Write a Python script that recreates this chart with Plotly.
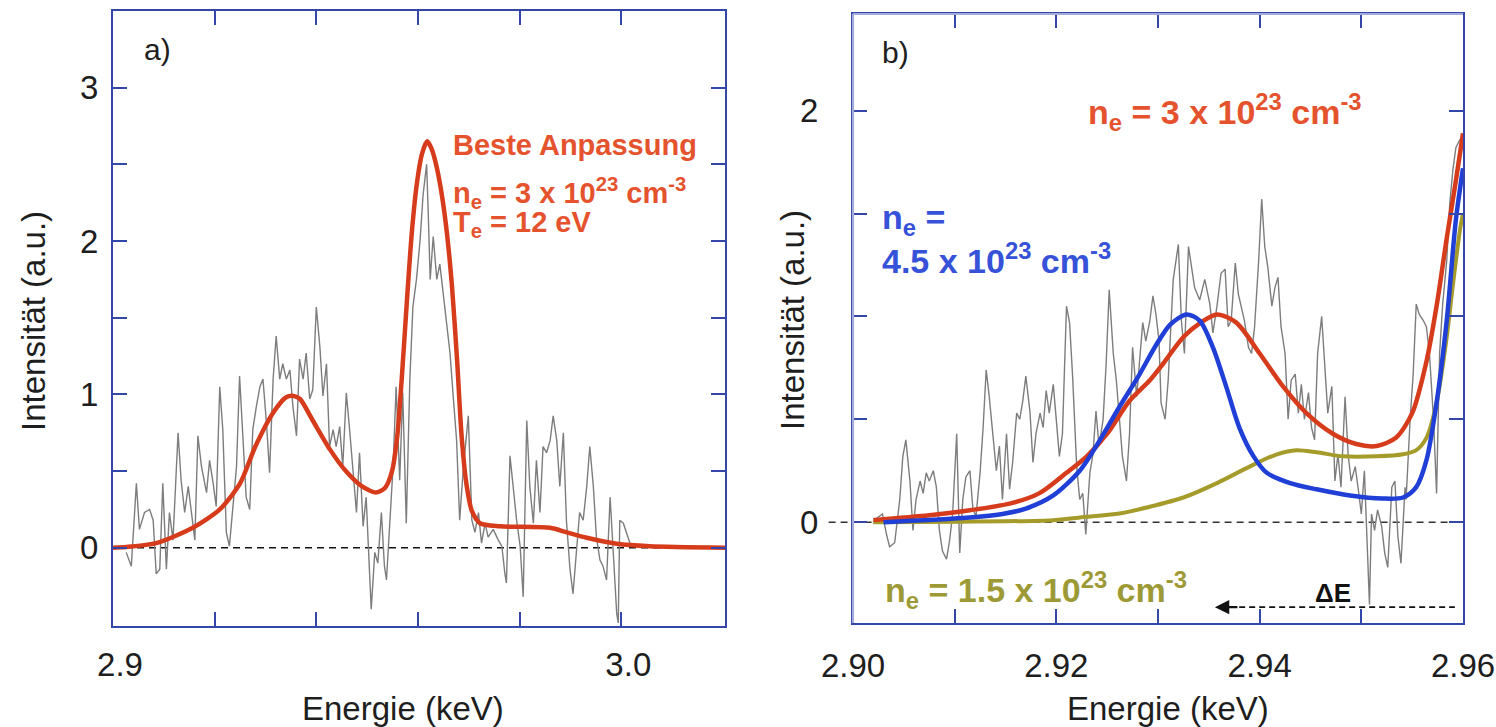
import plotly.graph_objects as go

# ---------------- panel a) : measured spectrum and best fit ----------------
E_a = [2.9026, 2.9036, 2.9046, 2.9052, 2.9062, 2.9072, 2.9079, 2.9085, 2.9092, 2.9098,
       2.9105, 2.9111, 2.9118, 2.9128, 2.9134, 2.9141, 2.9148, 2.9154, 2.9161, 2.9167,
       2.9174, 2.9184, 2.9190, 2.9197, 2.9203, 2.9210, 2.9216, 2.9223, 2.9229, 2.9236,
       2.9243, 2.9249, 2.9256, 2.9262, 2.9269, 2.9275, 2.9282, 2.9289, 2.9295, 2.9302,
       2.9308, 2.9315, 2.9321, 2.9328, 2.9334, 2.9341, 2.9348, 2.9354, 2.9361, 2.9367,
       2.9374, 2.9380, 2.9387, 2.9393, 2.9400, 2.9407, 2.9413, 2.9420, 2.9426, 2.9433,
       2.9439, 2.9446, 2.9452, 2.9459, 2.9466, 2.9472, 2.9479, 2.9485, 2.9492, 2.9498,
       2.9505, 2.9508, 2.9515, 2.9521, 2.9528, 2.9534, 2.9538, 2.9544, 2.9551, 2.9557,
       2.9564, 2.9570, 2.9577, 2.9584, 2.9590, 2.9597, 2.9604, 2.9610, 2.9617, 2.9620,
       2.9624, 2.9630, 2.9637, 2.9643, 2.9650, 2.9656, 2.9663, 2.9669, 2.9676, 2.9682,
       2.9689, 2.9699, 2.9706, 2.9712, 2.9719, 2.9725, 2.9732, 2.9738, 2.9748, 2.9758,
       2.9765, 2.9771, 2.9774, 2.9781, 2.9787, 2.9794, 2.9801, 2.9807, 2.9814, 2.9820,
       2.9827, 2.9833, 2.9840, 2.9846, 2.9853, 2.9860, 2.9866, 2.9873, 2.9879, 2.9886,
       2.9892, 2.9899, 2.9905, 2.9912, 2.9918, 2.9925, 2.9932, 2.9938, 2.9945, 2.9951,
       2.9958, 2.9964, 2.9971, 2.9978, 2.9984, 2.9991, 2.9994, 2.9997, 3.0004, 3.0010,
       3.0017]
I_a = [-0.03, -0.12, 0.42, 0.12, 0.23, 0.25, 0.18, -0.17, -0.14, 0.42,
       -0.14, 0.23, 0.05, 0.75, 0.44, 0.23, 0.40, 0.23, 0.05, 0.73,
       0.53, 0.36, 0.57, 0.42, 0.27, 1.05, 0.77, 0.10, 0.01, 0.27,
       0.53, 1.12, 0.66, 0.33, 0.25, 0.77, 0.92, 1.05, 1.10, 0.81,
       0.49, 1.10, 1.38, 1.10, 1.20, 1.10, 1.16, 0.92, 0.73, 1.23,
       1.10, 1.27, 0.97, 1.03, 1.57, 1.31, 0.99, 1.20, 0.66, 0.77,
       0.66, 0.79, 0.53, 1.01, 0.75, 0.49, 0.23, 0.62, 0.14, 0.33,
       -0.21, -0.40, -0.03, -0.10, 0.23, -0.12, -0.21, 0.10, 0.53, 1.05,
       0.44, 1.01, 0.16, 1.10, 1.57, 1.75, 2.00, 2.30, 2.50, 2.20,
       1.75, 2.03, 1.75, 1.85, 1.64, 1.50, 1.27, 1.00, 0.70, 0.18,
       0.51, 0.86, 0.18, 0.10, 0.23, 0.03, 0.16, 0.07, 0.12, 0.05,
       0.01, -0.17, -0.23, 0.60, 0.40, 0.18, 0.01, -0.32, 0.83, 0.40,
       0.16, 0.57, 0.23, 0.66, 0.62, 0.70, 0.86, 0.70, 0.40, 0.75,
       0.18, -0.14, -0.30, -0.03, 0.23, 0.18, 0.40, 0.66, 0.40, 0.07,
       -0.08, -0.12, -0.21, 0.33, 0.01, -0.43, -0.49, 0.18, 0.16, 0.10,
       0.03]

fit_E_a = [2.9000, 2.9026, 2.9085, 2.9157, 2.9210, 2.9250, 2.9280, 2.9315, 2.9340, 2.9355,
           2.9368, 2.9393, 2.9427, 2.9458, 2.9490, 2.9517, 2.9535, 2.9549, 2.9559, 2.9568,
           2.9578, 2.9588, 2.9598, 2.9608, 2.9618, 2.9627, 2.9637, 2.9647, 2.9657, 2.9667,
           2.9677, 2.9686, 2.9696, 2.9706, 2.9722, 2.9761, 2.9860, 2.9893, 2.9932, 2.9991,
           3.0056, 3.0204]
fit_I_a = [0.0, 0.005, 0.03, 0.13, 0.25, 0.42, 0.66, 0.88, 0.98, 0.99,
           0.97, 0.83, 0.64, 0.50, 0.40, 0.36, 0.39, 0.50, 0.72, 1.10,
           1.60, 2.06, 2.38, 2.57, 2.65, 2.60, 2.48, 2.30, 2.05, 1.70,
           1.22, 0.72, 0.40, 0.24, 0.16, 0.14, 0.13, 0.10, 0.065, 0.026,
           0.01, 0.0]

# ---------------- panel b) : spectrum and three density models ----------------
E_b = [2.9021, 2.9029, 2.9033, 2.9036, 2.9041,
       2.9046, 2.9049, 2.9052, 2.9056, 2.9059, 2.9062, 2.9066, 2.9069, 2.9072, 2.9075,
       2.9079, 2.9082, 2.9085, 2.9088, 2.9092, 2.9095, 2.9098, 2.9102, 2.9105, 2.9108,
       2.9111, 2.9115, 2.9118, 2.9121, 2.9125, 2.9128, 2.9131, 2.9134, 2.9138, 2.9141,
       2.9144, 2.9147, 2.9151, 2.9154, 2.9157, 2.9161, 2.9164, 2.9167, 2.9170, 2.9174,
       2.9177, 2.9180, 2.9184, 2.9187, 2.9190, 2.9193, 2.9197, 2.9200, 2.9203, 2.9206,
       2.9210, 2.9213, 2.9216, 2.9220, 2.9223, 2.9226, 2.9229, 2.9233, 2.9236, 2.9239,
       2.9242, 2.9246, 2.9249, 2.9252, 2.9256, 2.9259, 2.9262, 2.9265, 2.9269, 2.9272,
       2.9275, 2.9279, 2.9282, 2.9285, 2.9288, 2.9292, 2.9295, 2.9298, 2.9301,
       2.9303, 2.9307, 2.9310, 2.9315, 2.9320, 2.9323, 2.9326, 2.9330, 2.9333, 2.9336,
       2.9341, 2.9346, 2.9351, 2.9354, 2.9358, 2.9362, 2.9366, 2.9369, 2.9372, 2.9376,
       2.9379, 2.9382, 2.9385, 2.9389, 2.9392, 2.9395, 2.9399, 2.9402, 2.9405, 2.9408,
       2.9412, 2.9415, 2.9418, 2.9421, 2.9425, 2.9428, 2.9431, 2.9435, 2.9438, 2.9441,
       2.9444, 2.9448, 2.9451, 2.9454, 2.9457, 2.9461, 2.9464, 2.9467, 2.9471, 2.9474,
       2.9477, 2.9480, 2.9484, 2.9487, 2.9490, 2.9494, 2.9497, 2.9500, 2.9503, 2.9507,
       2.9508, 2.9510, 2.9513, 2.9516, 2.9520, 2.9523, 2.9526, 2.9530, 2.9533, 2.9536,
       2.9539, 2.9543, 2.9544, 2.9548, 2.9551, 2.9554, 2.9557, 2.9561, 2.9564, 2.9567,
       2.9571, 2.9574, 2.9577, 2.9580, 2.9584, 2.9587, 2.9590, 2.9593, 2.9597]
I_b = [0.01, 0.04, -0.06, -0.12, -0.10,
       0.11, 0.32, 0.40, 0.20, -0.04, 0.11, 0.20, 0.14, 0.24, 0.20,
       0.25, 0.17, -0.04, -0.14, -0.18, -0.09, 0.04, 0.43, -0.15, 0.11,
       0.22, 0.25, 0.06, 0.03, 0.24, 0.46, 0.74, 0.61, 0.40, 0.25,
       0.37, 0.11, 0.43, 0.16, 0.29, 0.53, 0.50, 0.59, 0.71, 0.54,
       0.29, 0.43, 0.53, 0.46, 0.64, 0.53, 0.67, 0.50, 0.32, 0.43,
       1.05, 0.97, 0.71, 0.27, 0.11, 0.14, -0.06, 0.24, 0.33, 0.54,
       0.37, 0.50, 0.77, 1.13, 0.82, 0.69, 0.50, 0.32, 0.20, 0.43,
       0.85, 0.61, 0.79, 0.97, 0.88, 0.98, 1.10, 1.01, 0.88,
       0.58, 0.50, 0.69, 1.18, 1.35, 0.98, 0.82, 1.34, 1.24, 1.14,
       1.08, 1.18, 1.06, 0.92, 1.05, 1.21, 1.23, 0.95, 0.98, 1.26,
       1.11, 1.05, 0.98, 0.85, 0.82, 0.95, 1.27, 1.57, 1.34, 1.24,
       1.05, 1.14, 1.19, 0.95, 0.82, 0.50, 0.69, 0.72, 0.53, 0.67,
       0.50, 0.63, 0.46, 0.40, 0.82, 1.00, 0.77, 0.53, 0.66, 0.20,
       0.33, 0.17, 0.61, 0.33, 0.20, 0.27, 0.16, 0.04, 0.25, -0.31,
       -0.40, 0.04, -0.04, 0.06, -0.02, -0.15, -0.22, 0.17, 0.20, -0.07,
       -0.20, 0.17, 0.11, 0.50, 0.72, 1.06, 1.01, 0.98, 0.95, 0.82,
       0.50, 0.14, 0.82, 1.06, 1.27, 1.55, 1.71, 1.82, 1.86]

red_E_b = [2.9020, 2.9075, 2.9115, 2.9154, 2.9183, 2.9210, 2.9230, 2.9250, 2.9272, 2.9292,
           2.9305, 2.9325, 2.9342, 2.9358, 2.9377, 2.9400, 2.9423, 2.9446, 2.9472, 2.9495,
           2.9515, 2.9534, 2.9550, 2.9564, 2.9574, 2.9584, 2.9593, 2.9600]
red_I_b = [0.01, 0.034, 0.058, 0.09, 0.14, 0.24, 0.32, 0.43, 0.59, 0.69,
           0.77, 0.90, 0.97, 1.01, 0.97, 0.82, 0.66, 0.53, 0.43, 0.38,
           0.37, 0.41, 0.53, 0.78, 1.05, 1.38, 1.66, 1.89]

blue_E_b = [2.9030, 2.9108, 2.9147, 2.9170, 2.9197, 2.9223, 2.9243, 2.9262, 2.9282, 2.9298,
            2.9312, 2.9328, 2.9341, 2.9354, 2.9367, 2.9380, 2.9394, 2.9407, 2.9430, 2.9456,
            2.9489, 2.9521, 2.9541, 2.9554, 2.9564, 2.9574, 2.9584, 2.9593, 2.9600]
blue_I_b = [0.0, 0.02, 0.04, 0.066, 0.13, 0.25, 0.40, 0.56, 0.72, 0.86,
            0.96, 1.01, 0.98, 0.85, 0.66, 0.46, 0.32, 0.24, 0.19, 0.16,
            0.13, 0.115, 0.12, 0.17, 0.30, 0.58, 0.98, 1.47, 1.72]

olive_E_b = [2.9020, 2.9197, 2.9230, 2.9262, 2.9292, 2.9325, 2.9358, 2.9390, 2.9417, 2.9436,
             2.9456, 2.9482, 2.9515, 2.9541, 2.9554, 2.9564, 2.9574, 2.9584, 2.9590, 2.9597,
             2.9600]
olive_I_b = [0.0, 0.01, 0.026, 0.042, 0.075, 0.12, 0.19, 0.27, 0.33, 0.35,
             0.34, 0.32, 0.32, 0.33, 0.35, 0.41, 0.58, 0.90, 1.15, 1.42,
             1.50]

# ---------------- styling ----------------
W, H = 1496, 727
FONT = "Liberation Sans, Arial, sans-serif"
FRAME = "#3447a8"
FRAME_LIGHT = "#a3acdc"
GRAY = "#7d7d7d"
RED = "#d63c1c"
BLUE = "#1f3fd6"
OLIVE = "#a59b2b"
RED_TXT = "#e5532e"
BLUE_TXT = "#3552d8"
OLIVE_TXT = "#9d9a36"
TXT = "#1e1e1e"


def px(x):
    return x / W


def py(y):
    return 1 - y / H


fig = go.Figure()

fig.add_trace(go.Scatter(x=E_a, y=I_a, mode="lines", line=dict(color=GRAY, width=1.4),
                         xaxis="x", yaxis="y", showlegend=False))
fig.add_trace(go.Scatter(x=fit_E_a, y=fit_I_a, mode="lines",
                         line=dict(color=RED, width=4.5, shape="spline", smoothing=0.7),
                         xaxis="x", yaxis="y", showlegend=False))

fig.add_trace(go.Scatter(x=E_b, y=I_b, mode="lines", line=dict(color=GRAY, width=1.4),
                         xaxis="x2", yaxis="y2", showlegend=False))
fig.add_trace(go.Scatter(x=olive_E_b, y=olive_I_b, mode="lines",
                         line=dict(color=OLIVE, width=4, shape="spline", smoothing=0.8),
                         xaxis="x2", yaxis="y2", showlegend=False))
fig.add_trace(go.Scatter(x=red_E_b, y=red_I_b, mode="lines",
                         line=dict(color=RED, width=4.5, shape="spline", smoothing=0.8),
                         xaxis="x2", yaxis="y2", showlegend=False))
fig.add_trace(go.Scatter(x=blue_E_b, y=blue_I_b, mode="lines",
                         line=dict(color=BLUE, width=4.5, shape="spline", smoothing=0.8),
                         xaxis="x2", yaxis="y2", showlegend=False))

axis_common = dict(showgrid=False, zeroline=False, showline=True, linecolor=FRAME, linewidth=2,
                   mirror="ticks", ticks="inside", ticklen=14, tickwidth=1.6, tickcolor=FRAME,
                   automargin=False,
                   tickfont=dict(family=FONT, size=33, color=TXT))

fig.update_layout(
    width=W, height=H,
    margin=dict(l=0, r=0, t=0, b=0, autoexpand=False),
    paper_bgcolor="white", plot_bgcolor="white",
    xaxis=dict(domain=[px(113), px(725)], range=[2.9, 3.0204], anchor="y",
               tickvals=[2.90, 2.92, 2.94, 2.96, 2.98, 3.00],
               ticktext=["2.9", "", "", "", "", "3.0"],
               ticklabelshift=7, ticklabelstandoff=8, **axis_common),
    yaxis=dict(domain=[py(626), py(11)], range=[-0.51, 3.5], anchor="x",
               tickvals=[0, 0.5, 1, 1.5, 2, 2.5, 3],
               ticktext=["0", "", "1", "", "2", "", "3"],
               ticklabelstandoff=6, **axis_common),
    xaxis2=dict(domain=[px(853), px(1463)], range=[2.90, 2.96], anchor="y2",
                tickvals=[2.90, 2.91, 2.92, 2.93, 2.94, 2.95, 2.96],
                ticktext=["2.90", "", "2.92", "", "2.94", "", "2.96"],
                ticklabelstandoff=12, **axis_common),
    yaxis2=dict(domain=[py(623), py(14)], range=[-0.49, 2.47], anchor="x2",
                tickvals=[0, 0.5, 1, 1.5, 2],
                ticktext=["0", "", "", "", "2"],
                ticklabelstandoff=26, **axis_common),
)

# zero lines
fig.add_shape(type="line", xref="x", yref="y", x0=2.9, x1=3.0204, y0=0, y1=0,
              line=dict(color="#111111", width=1.4, dash="7px,5px"), layer="below")
fig.add_shape(type="line", xref="x2 domain", yref="y2", x0=-0.04, x1=1, y0=0, y1=0,
              line=dict(color="#333333", width=1.4, dash="7px,5px"), layer="below")

# lighter top/left frame edges of panel b)
fig.add_shape(type="line", xref="paper", yref="paper", x0=px(853), x1=px(1463), y0=py(14), y1=py(14),
              line=dict(color=FRAME_LIGHT, width=2.2))
fig.add_shape(type="line", xref="paper", yref="paper", x0=px(853), x1=px(853), y0=py(14), y1=py(623),
              line=dict(color=FRAME_LIGHT, width=2.2))

# Delta E marker: dashed shaft with arrow head pointing to lower energy
fig.add_shape(type="line", xref="x2", yref="y2", x0=2.9370, x1=2.9592, y0=-0.413, y1=-0.413,
              line=dict(color="#111111", width=1.6, dash="6px,4px"))
fig.add_annotation(x=2.9356, y=-0.413, xref="x2", yref="y2", ax=24, ay=0, text="",
                   showarrow=True, arrowhead=2, arrowsize=1.3, arrowwidth=2.2, arrowcolor="#111111")
fig.add_annotation(x=2.9472, y=-0.345, xref="x2", yref="y2", text="<b>ΔE</b>", showarrow=False,
                   font=dict(family=FONT, size=26, color="#111111"))


def label(x, y, text, color, size, anchor="left"):
    fig.add_annotation(x=px(x), y=py(y), xref="paper", yref="paper", text=text, showarrow=False,
                       xanchor=anchor, yanchor="middle", font=dict(family=FONT, size=size, color=color))


# axis titles
label(403, 708, "Energie (keV)", TXT, 33, "center")
label(1168, 708, "Energie (keV)", TXT, 33, "center")
fig.add_annotation(x=px(34), y=py(321), xref="paper", yref="paper", text="Intensität (a.u.)",
                   textangle=-90, showarrow=False, xanchor="center", yanchor="middle",
                   font=dict(family=FONT, size=33, color=TXT))
fig.add_annotation(x=px(792), y=py(320), xref="paper", yref="paper", text="Intensität (a.u.)",
                   textangle=-90, showarrow=False, xanchor="center", yanchor="middle",
                   font=dict(family=FONT, size=33, color=TXT))

# panel tags
label(142, 50, "a)", TXT, 30)
label(880, 52, "b)", TXT, 30)

# panel a) annotations
label(451, 145, "<b>Beste Anpassung</b>", RED_TXT, 29)
label(451, 193, "<b>n<sub>e</sub> = 3 x 10<sup>23</sup> cm<sup>-3</sup></b>", RED_TXT, 29)
label(451, 224, "<b>T<sub>e</sub> = 12 eV</b>", RED_TXT, 29)

# panel b) annotations
label(1086, 112, "<b>n<sub>e</sub> = 3 x 10<sup>23</sup> cm<sup>-3</sup></b>", RED_TXT, 34)
label(880, 219, "<b>n<sub>e</sub> =</b>", BLUE_TXT, 34)
label(880, 258, "<b>4.5 x 10<sup>23</sup> cm<sup>-3</sup></b>", BLUE_TXT, 34)
label(883, 590, "<b>n<sub>e</sub> = 1.5 x 10<sup>23</sup> cm<sup>-3</sup></b>", OLIVE_TXT, 34)

fig.write_html("out.html")
